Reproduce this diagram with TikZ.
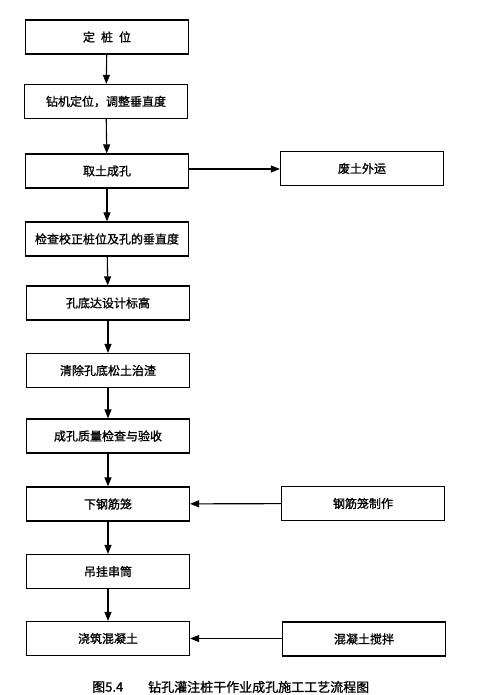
\documentclass[tikz,border=0pt]{standalone}
\usepackage{fontspec}
\setmainfont{Noto Sans CJK SC}[FakeBold=1.2]
\usetikzlibrary{arrows.meta}
\begin{document}
\begin{tikzpicture}[x=1pt,y=-1pt,
  box/.style={draw,line width=1.2pt,minimum width=163pt,minimum height=34pt,inner sep=0pt,font=\fontsize{12}{14}\selectfont},
  arr/.style={line width=1.1pt,-{Triangle[length=9pt,width=7pt]}}]
\useasboundingbox (0,0) rectangle (488,695);
\node[box] (b1) at (107,37) {定\hspace{0.5em}桩\hspace{0.5em}位};
\node[box] (b2) at (106,101.5) {钻机定位，调整垂直度};
\node[box] (b3) at (107,171) {取土成孔};
\node[box] (b4) at (107,239) {检查校正桩位及孔的垂直度};
\node[box] (b5) at (108,303) {孔底达设计标高};
\node[box] (b6) at (108,370.5) {清除孔底松土治渣};
\node[box] (b7) at (108,436) {成孔质量检查与验收};
\node[box] (b8) at (108,504) {下钢筋笼};
\node[box] (b9) at (108,571.5) {吊挂串筒};
\node[box] (b10) at (108,638.5) {浇筑混凝土};
\node[box] (r1) at (362,168.5) {废土外运};
\node[box] (r2) at (363,503.5) {钢筋笼制作};
\node[box] (r3) at (364,639) {混凝土搅拌};
\node[font=\fontsize{13}{15}\selectfont,anchor=west,inner sep=0pt] (capn) at (92,687) {图5.4};
\node[font=\fontsize{13}{15}\selectfont,anchor=west,inner sep=0pt] (cap) at (148,687) {钻孔灌注桩干作业成孔施工工艺流程图};
\draw[arr] (b1) -- (b2);
\draw[arr] (b2) -- (b3);
\draw[arr] (b3) -- (b4);
\draw[arr] (b4) -- (b5);
\draw[arr] (b5) -- (b6);
\draw[arr] (b6) -- (b7);
\draw[arr] (b7) -- (b8);
\draw[arr] (b8) -- (b9);
\draw[arr] (b9) -- (b10);
\draw[arr] (b3.east |- 0,169) -- (r1.west |- 0,169);
\draw[arr] (r2) -- (b8);
\draw[arr] (r3.west |- b10) -- (b10);
\end{tikzpicture}
\end{document}
